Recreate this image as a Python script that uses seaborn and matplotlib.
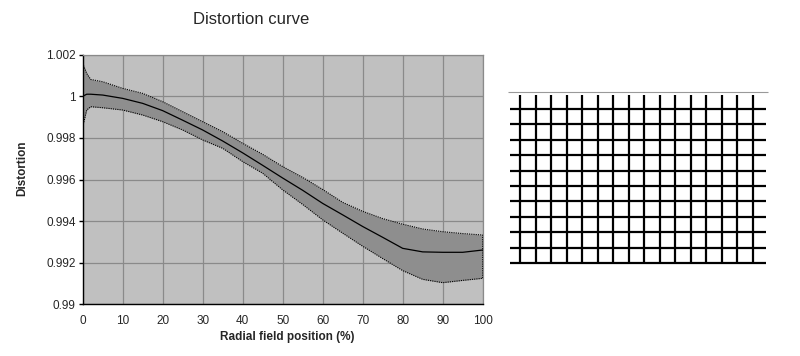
import numpy as np
import seaborn as sns
import matplotlib.pyplot as plt
from matplotlib.ticker import FuncFormatter

# distortion curve
radial_pos = [0, 1, 2, 5, 10, 15, 20, 25, 30, 35, 40, 45, 50, 55, 60, 65, 70, 75, 80, 85, 90, 95, 100]
distortion_mean = [1.0000, 1.0001, 1.0001, 1.00006, 0.9999, 0.99966, 0.99931, 0.99885, 0.99838, 0.99785,
                   0.99728, 0.99668, 0.99607, 0.99548, 0.99485, 0.99430, 0.99374, 0.99322, 0.99269,
                   0.99252, 0.9925, 0.9925, 0.99261]
distortion_upper = [1.00158, 1.0011, 1.00081, 1.0007, 1.00038, 1.00014, 0.99974, 0.99926, 0.99878, 0.9983,
                    0.99774, 0.99721, 0.99662, 0.99610, 0.99552, 0.99490, 0.99447, 0.99412, 0.99385,
                    0.99362, 0.99349, 0.99340, 0.99333]
distortion_lower = [0.99854, 0.99934, 0.9995, 0.99945, 0.99934, 0.9991, 0.99878, 0.99838, 0.9979, 0.9975,
                    0.99686, 0.9963, 0.9955, 0.99480, 0.99406, 0.99342, 0.99279, 0.99220, 0.99162,
                    0.99120, 0.99104, 0.99115, 0.99125]
y_ticks = [0.99, 0.992, 0.994, 0.996, 0.998, 1.0, 1.002]
x_ticks = [0, 10, 20, 30, 40, 50, 60, 70, 80, 90, 100]

# grid picture on the right, in grid units
grid_columns = [0, 1, 2, 3, 4, 5, 6, 7, 8, 9, 10, 11, 12, 13, 14, 15]
grid_rows = [0, 1, 2, 3, 4, 5, 6, 7, 8, 9, 10]

sns.set_style("white")
plt.rcParams['font.family'] = ['Liberation Sans', 'DejaVu Sans']

fig = plt.figure(figsize=(8, 3.56), dpi=100)
ax = fig.add_axes([82.7 / 800, 1 - 304.3 / 356, 400 / 800, 249.6 / 356])
ax.set_facecolor('#c0c0c0')

ax.fill_between(radial_pos, distortion_lower, distortion_upper, color='#8e8e8e', linewidth=0, zorder=2)
outline_x = radial_pos + radial_pos[::-1] + radial_pos[:1]
outline_y = distortion_upper + distortion_lower[::-1] + distortion_upper[:1]
ax.plot(outline_x, outline_y, color='black', linestyle=(0, (1, 1)), linewidth=0.8, zorder=3)
sns.lineplot(x=radial_pos, y=distortion_mean, color='black', linewidth=0.9, ax=ax, zorder=4)

ax.set_xlim(0, 100)
ax.set_ylim(0.99, 1.002)
ax.set_xticks(x_ticks)
ax.set_yticks(y_ticks)
ax.yaxis.set_major_formatter(FuncFormatter(lambda v, p: f'{v:g}'))
ax.grid(True, color='#8a8a8a', linewidth=0.9, zorder=1)
ax.set_axisbelow(True)
for side in ['top', 'right']:
    ax.spines[side].set_color('#8a8a8a')
    ax.spines[side].set_linewidth(0.9)
for side in ['left', 'bottom']:
    ax.spines[side].set_color('black')
    ax.spines[side].set_linewidth(1.0)
ax.tick_params(axis='y', left=True, length=3, width=1, color='black', labelsize=8.5, pad=2)
ax.tick_params(axis='x', bottom=False, labelsize=8.5, pad=4)

fig.text(251 / 800, 1 - 20 / 356, 'Distortion curve', ha='center', va='center', fontsize=12)
fig.text(287 / 800, 1 - 337 / 356, 'Radial field position (%)', ha='center', va='center',
         fontsize=8.5, fontweight='bold')
fig.text(22 / 800, 1 - 168 / 356, 'Distortion', ha='center', va='center', rotation=90,
         fontsize=8.5, fontweight='bold')

# right panel: line grid
ax2 = fig.add_axes([500 / 800, 1 - 275 / 356, 280 / 800, 190 / 356])
ax2.set_xlim(-1.29, 16.77)
ax2.set_ylim(10.78, -1.56)
ax2.vlines(grid_columns, -0.91, 10.06, color='black', linewidth=1.6)
ax2.hlines(grid_rows, -0.645, 15.87, color='black', linewidth=1.6)
ax2.hlines([-1.1], -0.77, 16.0, color='#999999', linewidth=0.8)
ax2.axis('off')

fig.savefig('out.png', dpi=100)
